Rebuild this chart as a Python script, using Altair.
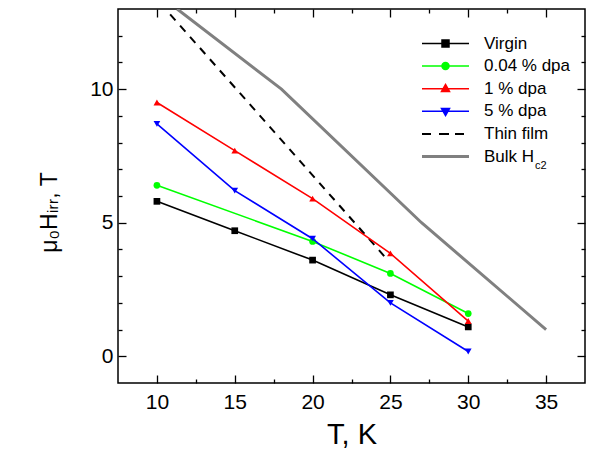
import altair as alt
import pandas as pd

# ---------------- data ----------------
series_names = ["Virgin", "0.04 % dpa", "1 % dpa", "5 % dpa", "Thin film", "Bulk Hc2"]
series_colors = ["#000000", "#00ff00", "#ff0000", "#0000ff", "#000000", "#808080"]

T_virgin = [10, 15, 20, 25, 30]
H_virgin = [5.8, 4.7, 3.6, 2.3, 1.1]

T_004 = [10, 20, 25, 30]
H_004 = [6.4, 4.3, 3.1, 1.6]

T_1 = [10, 15, 20, 25, 30]
H_1 = [9.5, 7.7, 5.9, 3.85, 1.32]

T_5 = [10, 15, 20, 25, 30]
H_5 = [8.7, 6.2, 4.4, 2.0, 0.18]

T_film = [10.85, 24.6]
H_film = [12.8, 3.75]

T_bulk = [11.3, 18, 27, 35]
H_bulk = [13.0, 10.0, 5.0, 1.0]

x_major = [10, 15, 20, 25, 30, 35]
x_ticks = [10, 12.5, 15, 17.5, 20, 22.5, 25, 27.5, 30, 32.5, 35]
y_major = [0, 5, 10]
y_ticks = list(range(0, 13))

x_title = "T, K"
y_title = "μ₀Hᵢᵣᵣ, T"
sub_label = ["c2"]

# ---------------- tables ----------------
rows = []
for name, Ts, Hs in [
    ("Virgin", T_virgin, H_virgin),
    ("0.04 % dpa", T_004, H_004),
    ("1 % dpa", T_1, H_1),
    ("5 % dpa", T_5, H_5),
    ("Thin film", T_film, H_film),
    ("Bulk Hc2", T_bulk, H_bulk),
]:
    for t, h in zip(Ts, Hs):
        rows.append({"series": name, "T": t, "H": h})
df = pd.DataFrame(rows)
df_meas = df[df["series"].isin(series_names[:4])]
df_film = df[df["series"] == "Thin film"]
df_bulk = df[df["series"] == "Bulk Hc2"]

W, H = 467, 374
FONT = "Liberation Sans"
xscale = alt.Scale(domain=[7.5, 37.5], nice=False, zero=False)
yscale = alt.Scale(domain=[-1, 13], nice=False, zero=False)
color_scale = alt.Scale(domain=series_names, range=series_colors)

# legend symbols: custom paths (symbolSize 100 -> 5 px per path unit)
legend_paths = {
    "Virgin": "M-4.7,0H4.7M-0.7,-0.7H0.7V0.7H-0.7Z",
    "0.04 % dpa": "M-4.7,0H4.7M0.7,0A0.7,0.7,0,1,1,-0.7,0A0.7,0.7,0,1,1,0.7,0Z",
    "1 % dpa": "M-4.7,0H4.7M0,-0.85L0.8,0.55L-0.8,0.55Z",
    "5 % dpa": "M-4.7,0H4.7M0,0.85L0.8,-0.55L-0.8,-0.55Z",
    "Thin film": "M-4.7,0H-2.9M-1.3,0H0.7M1.9,0H3.7",
    "Bulk Hc2": "M-4.7,0H4.7",
}
shape_expr = "'circle'"
for k in reversed(series_names):
    shape_expr = f"(datum.value === '{k}' ? '{legend_paths[k]}' : {shape_expr})"
sw_expr = "(datum.value === 'Bulk Hc2' ? 3 : (datum.value === 'Thin film' ? 2 : 1.5))"

legend = alt.Legend(
    title=None,
    orient="none",
    legendX=319,
    legendY=26,
    symbolSize=100,
    symbolType={"expr": shape_expr},
    symbolStrokeWidth={"expr": sw_expr},
    symbolStrokeColor={"expr": "scale('color', datum.value)"},
    symbolOpacity=1,
    labelFont=FONT,
    labelFontSize=17,
    labelColor="#000000",
    labelOffset=30,
    rowPadding=4.6,
    labelExpr="datum.label === 'Bulk Hc2' ? 'Bulk H' : datum.label",
)

main_x_axis = alt.Axis(
    values=x_major, ticks=False, domain=False, grid=False,
    labelFont=FONT, labelFontSize=21, labelColor="#000", labelPadding=8,
    title=x_title, titleFont=FONT, titleFontSize=29, titleFontWeight="normal",
    titleColor="#000", titlePadding=8,
)
main_y_axis = alt.Axis(
    values=y_major, ticks=False, domain=False, grid=False,
    labelFont=FONT, labelFontSize=21, labelColor="#000", labelPadding=5,
    title=y_title, titleFont=FONT, titleFontSize=23, titleFontWeight="normal",
    titleColor="#000", titlePadding=28, titleY=203,
)

points = alt.Chart(df_meas).mark_point(filled=True, opacity=1, size=45).encode(
    x=alt.X("T:Q", scale=xscale, axis=None),
    y=alt.Y("H:Q", scale=yscale, axis=None),
    color=alt.Color("series:N", scale=color_scale, legend=legend),
    shape=alt.Shape(
        "series:N",
        scale=alt.Scale(domain=series_names[:4],
                        range=["square", "circle", "triangle-up", "triangle-down"]),
        legend=None,
    ),
)

bulk = alt.Chart(df_bulk).mark_line(color="#808080", strokeWidth=3, clip=True).encode(
    x=alt.X("T:Q", scale=xscale, axis=None),
    y=alt.Y("H:Q", scale=yscale, axis=None),
)
film = alt.Chart(df_film).mark_line(color="#000000", strokeWidth=2,
                                    strokeDash=[8, 7], clip=True).encode(
    x=alt.X("T:Q", scale=xscale, axis=None),
    y=alt.Y("H:Q", scale=yscale, axis=None),
)
lines = alt.Chart(df_meas).mark_line(strokeWidth=1.6, clip=True).encode(
    x=alt.X("T:Q", scale=xscale, axis=main_x_axis),
    y=alt.Y("H:Q", scale=yscale, axis=main_y_axis),
    color=alt.Color("series:N", scale=color_scale),
)

tick_size = {"condition": {"test": "datum.value % 5 === 0", "value": 8}, "value": 4}


def tick_axis(orient, values, offset):
    return alt.Axis(
        orient=orient, offset=offset, values=values, labels=False, domain=False,
        grid=False, title=None, ticks=True, tickSize=tick_size, tickWidth=1.3,
        tickColor="#000",
    )


ticks_a = alt.Chart(df).mark_point(opacity=0).encode(
    x=alt.X("T:Q", scale=xscale, axis=tick_axis("top", x_ticks, -H)),
    y=alt.Y("H:Q", scale=yscale, axis=tick_axis("right", y_ticks, -W)),
)
ticks_b = alt.Chart(df).mark_point(opacity=0).encode(
    x=alt.X("T:Q", scale=xscale, axis=tick_axis("bottom", x_ticks, -H)),
    y=alt.Y("H:Q", scale=yscale, axis=tick_axis("left", y_ticks, -W)),
)

sub = alt.Chart(pd.DataFrame({"t": sub_label})).mark_text(
    font=FONT, fontSize=11, align="left", baseline="middle", color="#000"
).encode(text="t:N", x=alt.value(417), y=alt.value(157))

chart = (
    alt.layer(ticks_a, ticks_b, points, bulk, film, lines, sub)
    .resolve_axis(x="independent", y="independent")
    .properties(
        width=W, height=H,
        autosize=alt.AutoSizeParams(type="none"),
        padding={"left": 110, "top": 1, "right": 1, "bottom": 70},
    )
    .configure_view(stroke="#000", strokeWidth=1.5)
)

chart.save("out.html", embed_options={"renderer": "svg", "actions": False})
